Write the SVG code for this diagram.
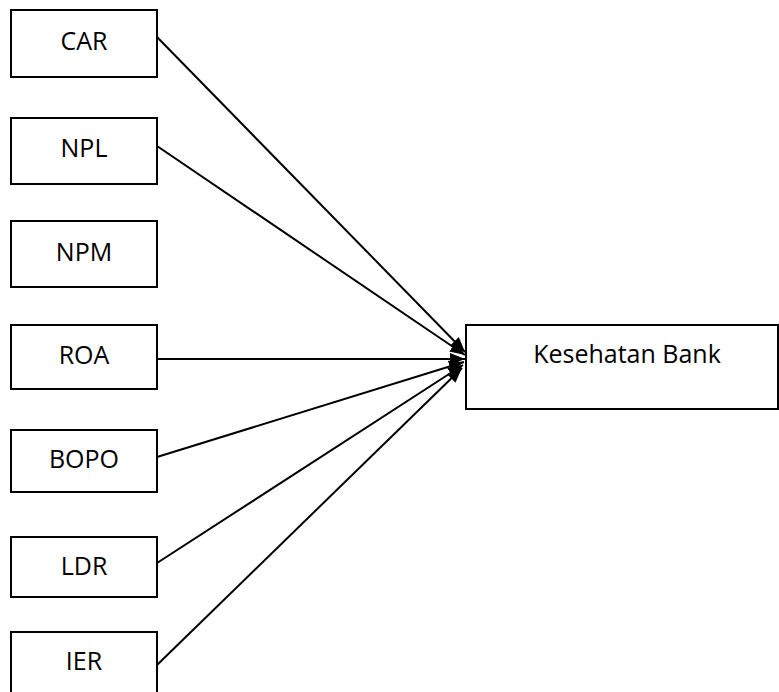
<svg xmlns="http://www.w3.org/2000/svg" width="779" height="692" viewBox="0 0 779 692">
<style>
.box{fill:#fff;stroke:#000;stroke-width:2}
.lbl{font-family:"Open Sans","Liberation Sans",sans-serif;font-size:25px;fill:#000;text-anchor:middle}
.conn{stroke:#000;stroke-width:2;fill:none;marker-end:url(#ah)}
</style>
<defs>
<marker id="ah" markerUnits="userSpaceOnUse" markerWidth="16" markerHeight="12" refX="15" refY="6" orient="auto">
<path d="M0,0 L15,6 L0,12 Z" fill="#000"/>
</marker>
</defs>
<rect width="779" height="692" fill="#fff"/>
<g id="connectors">
<line class="conn" x1="157" y1="37" x2="465" y2="352"/>
<line class="conn" x1="157" y1="146" x2="465" y2="355"/>
<line class="conn" x1="157" y1="359" x2="465" y2="359"/>
<line class="conn" x1="157" y1="457" x2="464" y2="362"/>
<line class="conn" x1="157" y1="563" x2="463" y2="365"/>
<line class="conn" x1="157" y1="665" x2="462" y2="368"/>
</g>
<g id="car"><rect class="box" x="11" y="10" width="146" height="67"/><text class="lbl" x="84" y="50">CAR</text></g>
<g id="npl"><rect class="box" x="11" y="118" width="146" height="66"/><text class="lbl" x="84" y="157">NPL</text></g>
<g id="npm"><rect class="box" x="11" y="221" width="146" height="66"/><text class="lbl" x="84" y="261">NPM</text></g>
<g id="roa"><rect class="box" x="11" y="325" width="146" height="64"/><text class="lbl" x="84" y="364">ROA</text></g>
<g id="bopo"><rect class="box" x="11" y="430" width="146" height="62"/><text class="lbl" x="84" y="468">BOPO</text></g>
<g id="ldr"><rect class="box" x="11" y="537" width="146" height="60"/><text class="lbl" x="84" y="575">LDR</text></g>
<g id="ier"><rect class="box" x="11" y="632" width="146" height="66"/><text class="lbl" x="84" y="670">IER</text></g>
<g id="kesehatan"><rect class="box" x="466" y="325" width="312" height="84"/><text class="lbl" x="627" y="363">Kesehatan Bank</text></g>
</svg>
